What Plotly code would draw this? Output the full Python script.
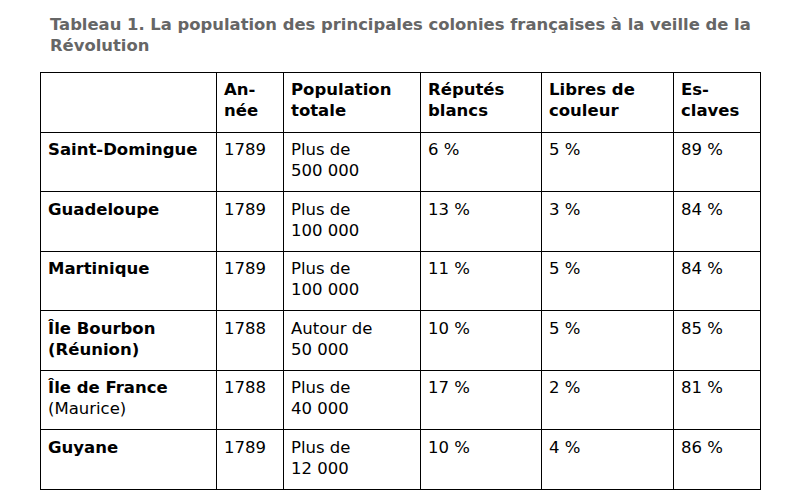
import plotly.graph_objects as go

# -------------------------------
# Data
# -------------------------------
header = ["", "An-<br>née", "Population<br>totale", "Réputés<br>blancs", "Libres de<br>couleur", "Es-<br>claves"]
colonies = ["<b>Saint-Domingue</b>", "<b>Guadeloupe</b>", "<b>Martinique</b>",
            "<b>Île Bourbon<br>(Réunion)</b>", "<b>Île de France</b><br>(Maurice)", "<b>Guyane</b>"]
annees = ["1789", "1789", "1789", "1788", "1788", "1789"]
population = ["Plus de<br>500 000", "Plus de<br>100 000", "Plus de<br>100 000",
              "Autour de<br>50 000", "Plus de<br>40 000", "Plus de<br>12 000"]
blancs = [6, 13, 11, 10, 17, 10]
libres = [5, 3, 5, 5, 2, 4]
esclaves = [89, 84, 84, 85, 81, 86]

W, H = 786, 502
font = dict(family="DejaVu Sans, Verdana, sans-serif", size=16.5, color="black")


def two_lines(items):
    # pad single-line cells so every cell in a row shares the same baseline
    return [s if "<br>" in s else s + "<br> " for s in items]


fig = go.Figure(go.Table(
    domain=dict(x=[32 / W, 752 / W], y=[0, 1 - 64 / H]),
    columnwidth=[176, 67, 137, 121, 132, 87],
    header=dict(
        values=["<b>%s</b>" % h for h in header],
        align="left", font=font, height=60,
        line=dict(color="black", width=1), fill=dict(color="white"),
    ),
    cells=dict(
        values=[two_lines(colonies), two_lines(annees), population,
                two_lines(["%d %%" % v for v in blancs]),
                two_lines(["%d %%" % v for v in libres]),
                two_lines(["%d %%" % v for v in esclaves])],
        align="left", font=font, height=59.5,
        line=dict(color="black", width=1), fill=dict(color="white"),
    ),
))

fig.add_annotation(
    x=40 / W, y=1 - 5 / H, xref="paper", yref="paper", xanchor="left", yanchor="top",
    text="<b>Tableau 1. La population des principales colonies françaises à la veille de la<br>Révolution</b>",
    showarrow=False, align="left",
    font=dict(family="DejaVu Sans, Verdana, sans-serif", size=16.4, color="#666666"),
)

fig.update_layout(width=W, height=H, margin=dict(l=0, r=0, t=0, b=0),
                  paper_bgcolor="white", plot_bgcolor="white")

fig.write_html("out.html")
